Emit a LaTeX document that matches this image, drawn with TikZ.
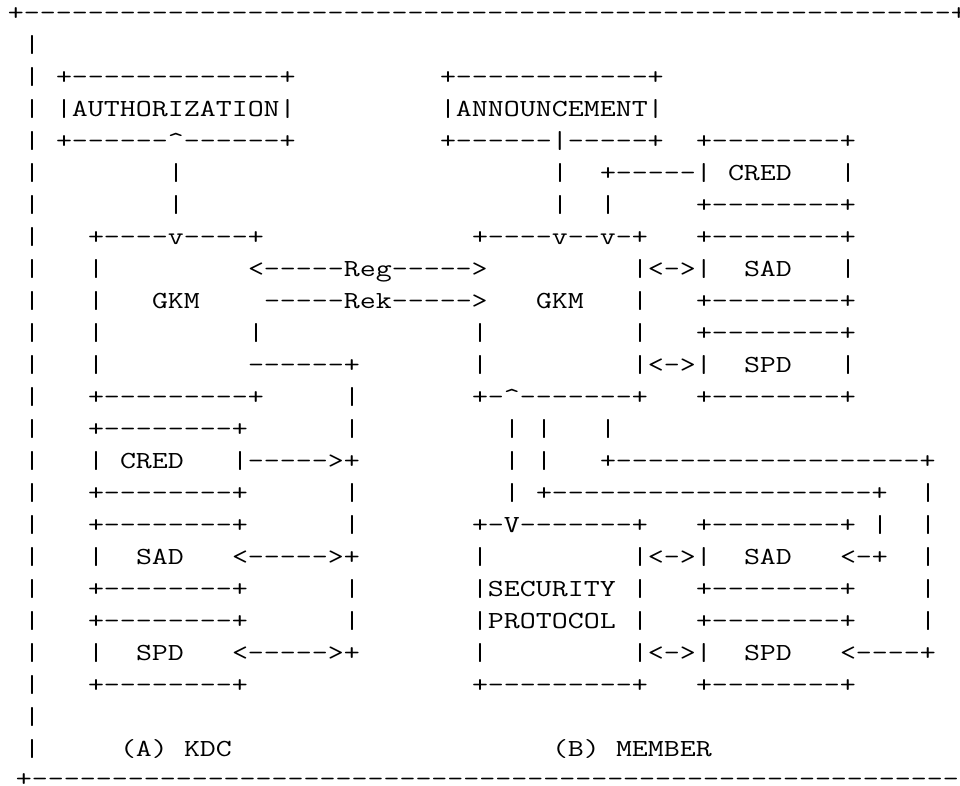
\documentclass[tikz,border=0pt]{standalone}
\usepackage{fontspec}
\usepackage{graphicx}
% typewriter text on a 16pt x 32pt character grid
\tikzset{asc/.style={font=\fontsize{24.5}{30}\selectfont\ttfamily,
  anchor=base west, inner sep=0pt, outer sep=0pt}}
% widen the glyphs so that one character takes 16pt
\newcommand\wide[1]{\scalebox{1.2665}[1]{#1}}
% \cell{column}{row}{text}: text whose first character sits in the given grid cell
\newcommand\cell[3]{\node[asc] (r#2c#1) at ({16*#1-8},{-32*#2-20}) {\wide{#3}};}
\newcommand\dten{----------}
\newcommand\caret{\textasciicircum}
\begin{document}
\begin{tikzpicture}[x=1pt,y=1pt]
\fill[white] (0,0) rectangle (960,-785);
\useasboundingbox (0,0) rectangle (960,-785);

% outer frame
\cell{1}{0}{+\dten\dten\dten\dten\dten--------+}
\foreach \r in {1,...,23} {\node[asc] (bar\r) at (24,{-32*\r-20}) {\wide{|}};}
\node[asc] (bottom) at (16,-786) {\wide{+\dten\dten\dten\dten\dten--------}};

% row 2-4: AUTHORIZATION, ANNOUNCEMENT
\cell{4}{2}{+-------------+}
\cell{28}{2}{+------------+}
\cell{4}{3}{|AUTHORIZATION|}
\cell{28}{3}{|ANNOUNCEMENT|}
\cell{4}{4}{+------\caret------+}
\cell{28}{4}{+------|-----+}
\cell{44}{4}{+--------+}

% row 5-6: member CRED
\cell{11}{5}{|}
\cell{35}{5}{|}
\cell{38}{5}{+-----|}
\cell{46}{5}{CRED}
\cell{53}{5}{|}
\cell{11}{6}{|}
\cell{35}{6}{|}
\cell{38}{6}{|}
\cell{44}{6}{+--------+}

% row 7-12: the two GKM boxes
\cell{6}{7}{+----v----+}
\cell{30}{7}{+----v--v-+}
\cell{44}{7}{+--------+}

\cell{6}{8}{|}
\cell{16}{8}{<-----Reg----->}
\cell{40}{8}{|<->|}
\cell{47}{8}{SAD}
\cell{53}{8}{|}

\cell{6}{9}{|}
\cell{10}{9}{GKM}
\cell{17}{9}{-----Rek----->}
\cell{34}{9}{GKM}
\cell{40}{9}{|}
\cell{44}{9}{+--------+}

\cell{6}{10}{|}
\cell{16}{10}{|}
\cell{30}{10}{|}
\cell{40}{10}{|}
\cell{44}{10}{+--------+}

\cell{6}{11}{|}
\cell{16}{11}{------+}
\cell{30}{11}{|}
\cell{40}{11}{|<->|}
\cell{47}{11}{SPD}
\cell{53}{11}{|}

\cell{6}{12}{+---------+}
\cell{22}{12}{|}
\cell{30}{12}{+-\caret-------+}
\cell{44}{12}{+--------+}

% row 13-16: KDC CRED, member wiring
\cell{6}{13}{+--------+}
\cell{22}{13}{|}
\cell{32}{13}{|}
\cell{34}{13}{|}
\cell{38}{13}{|}

\cell{6}{14}{|}
\cell{8}{14}{CRED}
\cell{15}{14}{|----->+}
\cell{32}{14}{|}
\cell{34}{14}{|}
\cell{38}{14}{+\dten---------+}

\cell{6}{15}{+--------+}
\cell{22}{15}{|}
\cell{32}{15}{|}
\cell{34}{15}{+\dten\dten+}
\cell{58}{15}{|}

\cell{6}{16}{+--------+}
\cell{22}{16}{|}
\cell{30}{16}{+-V-------+}
\cell{44}{16}{+--------+}
\cell{55}{16}{|}
\cell{58}{16}{|}

% row 17-21: SAD, SECURITY PROTOCOL, SPD
\cell{6}{17}{|}
\cell{9}{17}{SAD}
\cell{15}{17}{<----->+}
\cell{30}{17}{|}
\cell{40}{17}{|<->|}
\cell{47}{17}{SAD}
\cell{53}{17}{<-+}
\cell{58}{17}{|}

\cell{6}{18}{+--------+}
\cell{22}{18}{|}
\cell{30}{18}{|SECURITY}
\cell{40}{18}{|}
\cell{44}{18}{+--------+}
\cell{58}{18}{|}

\cell{6}{19}{+--------+}
\cell{22}{19}{|}
\cell{30}{19}{|PROTOCOL}
\cell{40}{19}{|}
\cell{44}{19}{+--------+}
\cell{58}{19}{|}

\cell{6}{20}{|}
\cell{9}{20}{SPD}
\cell{15}{20}{<----->+}
\cell{30}{20}{|}
\cell{40}{20}{|<->|}
\cell{47}{20}{SPD}
\cell{53}{20}{<----+}

\cell{6}{21}{+--------+}
\cell{30}{21}{+---------+}
\cell{44}{21}{+--------+}

% captions
\cell{8}{23}{(A)}
\cell{12}{23}{KDC}
\cell{35}{23}{(B)}
\cell{39}{23}{MEMBER}
\end{tikzpicture}
\end{document}
